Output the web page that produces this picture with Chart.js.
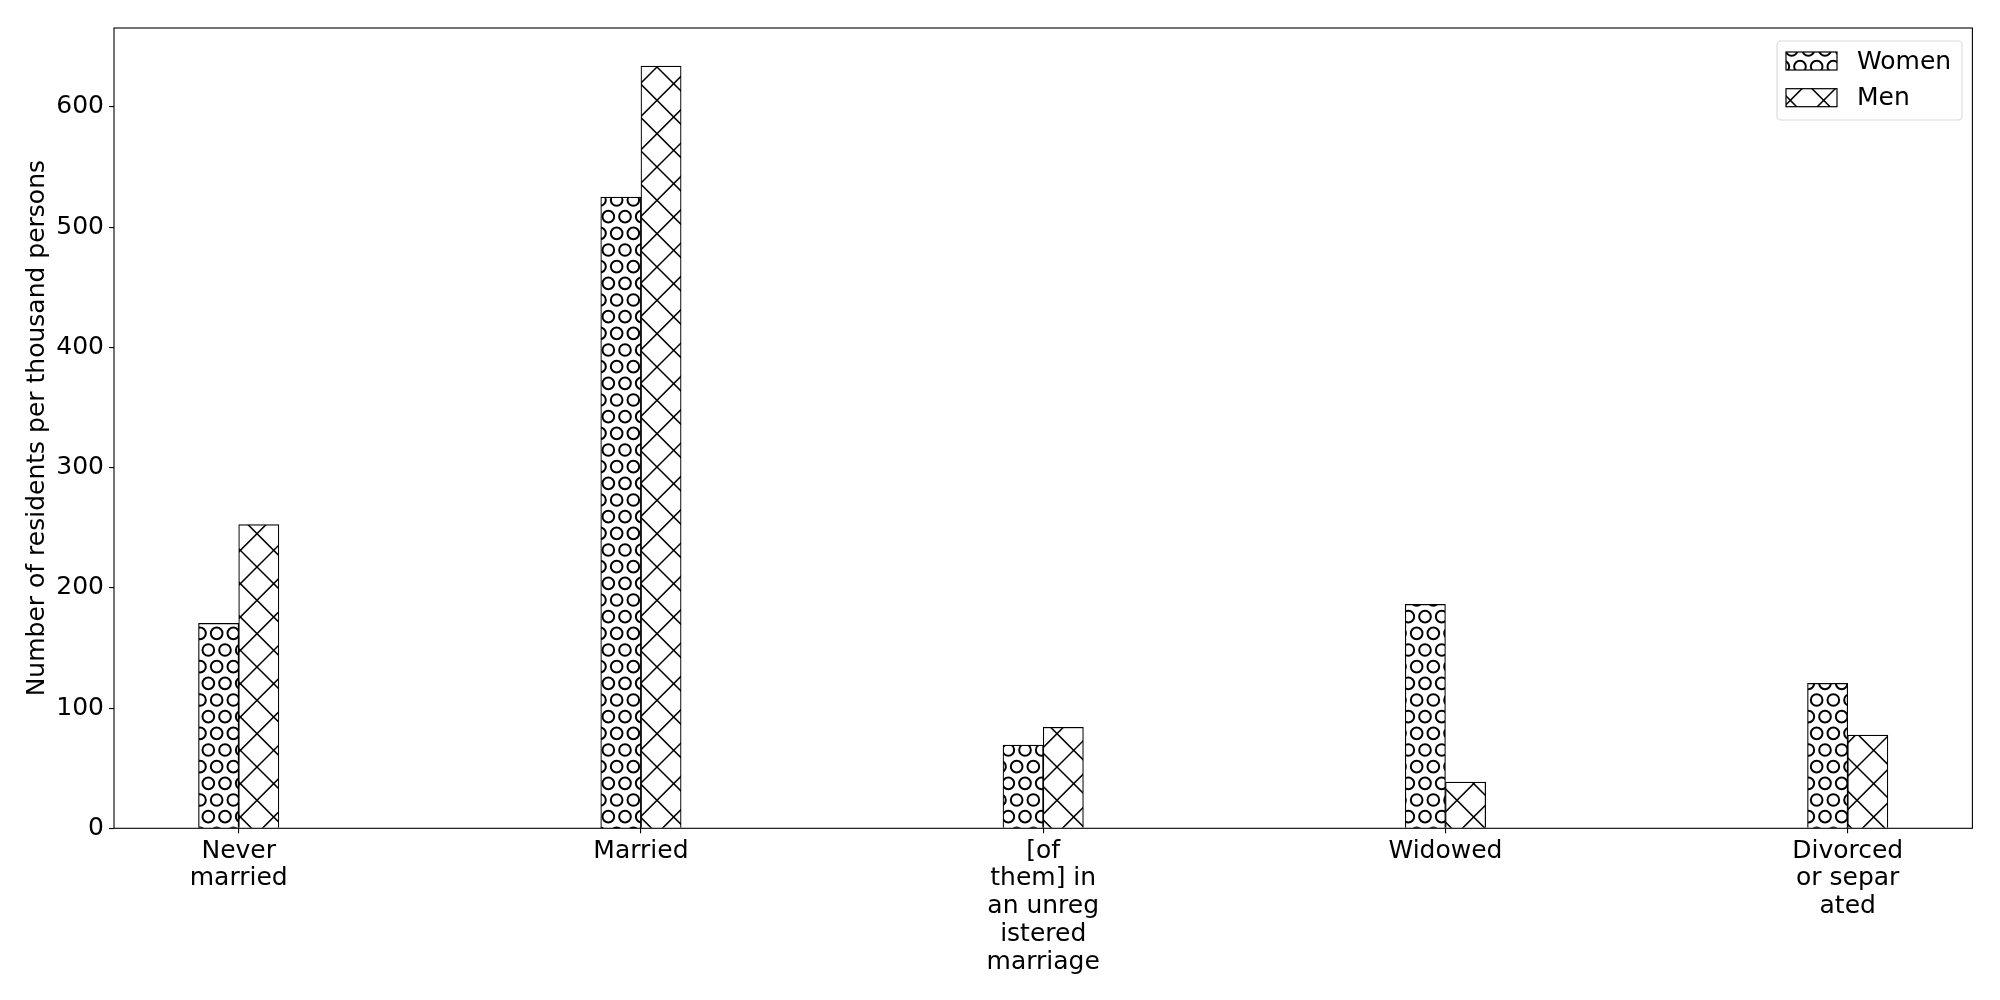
<!DOCTYPE html>
<html>
<head>
<meta charset="utf-8">
<script src="https://cdn.jsdelivr.net/npm/chart.js@4/dist/chart.umd.min.js"></script>
<style>
  html, body { margin: 0; padding: 0; background: #fff; }
  #wrap { width: 2000px; height: 1000px; }
</style>
</head>
<body>
<div id="wrap"><canvas id="c" width="2000" height="1000"></canvas></div>
<script>
// ---- data ----
const categories = [
  ['Never', 'married'],
  ['Married'],
  ['[of', 'them] in', 'an unreg', 'istered', 'marriage'],
  ['Widowed'],
  ['Divorced', 'or separ', 'ated']
];
const seriesNames = ['Women', 'Men'];
const womenValues = [170.4, 525.0, 69.2, 186.2, 120.5];
const menValues = [252.7, 634.0, 84.0, 38.5, 77.6];
const yTicks = [0, 100, 200, 300, 400, 500, 600];

// ---- hatch patterns ----
const FONT = "'DejaVu Sans', sans-serif";
const FS = 25;
function circlePattern(ctx) {
  const t = document.createElement('canvas');
  t.width = 100; t.height = 100;
  const g = t.getContext('2d');
  g.fillStyle = '#fff'; g.fillRect(0, 0, 100, 100);
  g.strokeStyle = '#000'; g.lineWidth = 2;
  const s = 100 / 6, r = 5.83;
  for (let k = -1; k <= 7; k++) {
    const off = (Math.abs(k) % 2) ? s / 2 : 0;
    for (let m = -1; m <= 7; m++) {
      g.beginPath();
      g.arc(m * s + off, k * s, r, 0, Math.PI * 2);
      g.stroke();
    }
  }
  return ctx.createPattern(t, 'repeat');
}
function crossPattern(ctx) {
  const t = document.createElement('canvas');
  t.width = 100; t.height = 100;
  const g = t.getContext('2d');
  g.fillStyle = '#fff'; g.fillRect(0, 0, 100, 100);
  g.strokeStyle = '#000'; g.lineWidth = 1.5;
  const d = 100 / 3;
  for (let k = -6; k <= 12; k++) {
    const c = 24 + k * d; // x + y = c
    g.beginPath(); g.moveTo(c + 50, -50); g.lineTo(c - 150, 150); g.stroke();
    const e = 10 + k * d; // y - x = e
    g.beginPath(); g.moveTo(-50, e - 50); g.lineTo(150, e + 150); g.stroke();
  }
  return ctx.createPattern(t, 'repeat');
}

const canvas = document.getElementById('c');
const ctx = canvas.getContext('2d');
const womenFill = circlePattern(ctx);
const menFill = crossPattern(ctx);

const spinesAndLegend = {
  id: 'spinesAndLegend',
  afterDraw(chart) {
    const { ctx, chartArea: a } = chart;
    ctx.save();
    ctx.strokeStyle = '#000';
    ctx.lineWidth = 1.1;
    ctx.strokeRect(a.left, a.top, a.right - a.left, a.bottom - a.top);
    // legend
    const bx = 1777, by = 41, bw = 185, bh = 79;
    ctx.fillStyle = 'rgba(255,255,255,0.8)';
    ctx.strokeStyle = '#d9d9d9';
    ctx.lineWidth = 1.1;
    ctx.beginPath();
    ctx.roundRect(bx, by, bw, bh, 4);
    ctx.fill(); ctx.stroke();
    const fills = [womenFill, menFill];
    ctx.font = FS + 'px ' + FONT;
    ctx.textBaseline = 'middle';
    ctx.textAlign = 'left';
    seriesNames.forEach((name, i) => {
      const y = 52 + i * 36.7;
      ctx.fillStyle = fills[i];
      ctx.fillRect(1786, y, 51, 18);
      ctx.strokeStyle = '#000';
      ctx.lineWidth = 1.2;
      ctx.strokeRect(1786, y, 51, 18);
      ctx.fillStyle = '#000';
      ctx.fillText(name, 1857, y + 10);
    });
    ctx.restore();
  }
};

new Chart(ctx, {
  type: 'bar',
  data: {
    datasets: [
      {
        label: seriesNames[0],
        data: womenValues.map((v, i) => ({ x: i, y: v })),
        backgroundColor: womenFill,
        borderColor: '#000',
        borderWidth: 1.2,
        barThickness: 40.2
      },
      {
        label: seriesNames[1],
        data: menValues.map((v, i) => ({ x: i, y: v })),
        backgroundColor: menFill,
        borderColor: '#000',
        borderWidth: 1.2,
        barThickness: 40.2
      }
    ]
  },
  options: {
    responsive: false,
    animation: false,
    devicePixelRatio: 1,
    layout: { padding: { left: 0, top: 28, right: 27.6, bottom: 0 } },
    plugins: { legend: { display: false }, tooltip: { enabled: false } },
    scales: {
      x: {
        type: 'linear',
        offset: false,
        min: -0.31,
        max: 4.31,
        afterBuildTicks: (s) => { s.ticks = categories.map((_, i) => ({ value: i })); },
        afterFit: (s) => { s.height = 171.7; },
        ticks: {
          autoSkip: false,
          maxRotation: 0,
          color: '#000',
          padding: 4,
          font: { family: FONT, size: FS, lineHeight: 1.11 },
          callback: (v) => categories[v]
        },
        grid: { offset: false, drawOnChartArea: false, drawTicks: true, tickLength: 5, color: '#000', lineWidth: 1.1 },
        border: { display: false }
      },
      y: {
        min: 0,
        max: 665.7,
        afterBuildTicks: (s) => { s.ticks = yTicks.map(v => ({ value: v })); },
        afterFit: (s) => { s.width = 114; },
        ticks: {
          color: '#000',
          padding: 5,
          font: { family: FONT, size: FS },
          callback: (v) => String(v)
        },
        grid: { drawOnChartArea: false, drawTicks: true, tickLength: 5, color: '#000', lineWidth: 1.1 },
        border: { display: false },
        title: {
          display: true,
          text: 'Number of residents per thousand persons',
          color: '#000',
          font: { family: FONT, size: FS },
          padding: { top: 22, bottom: 0 }
        }
      }
    }
  },
  plugins: [spinesAndLegend]
});
</script>
</body>
</html>
